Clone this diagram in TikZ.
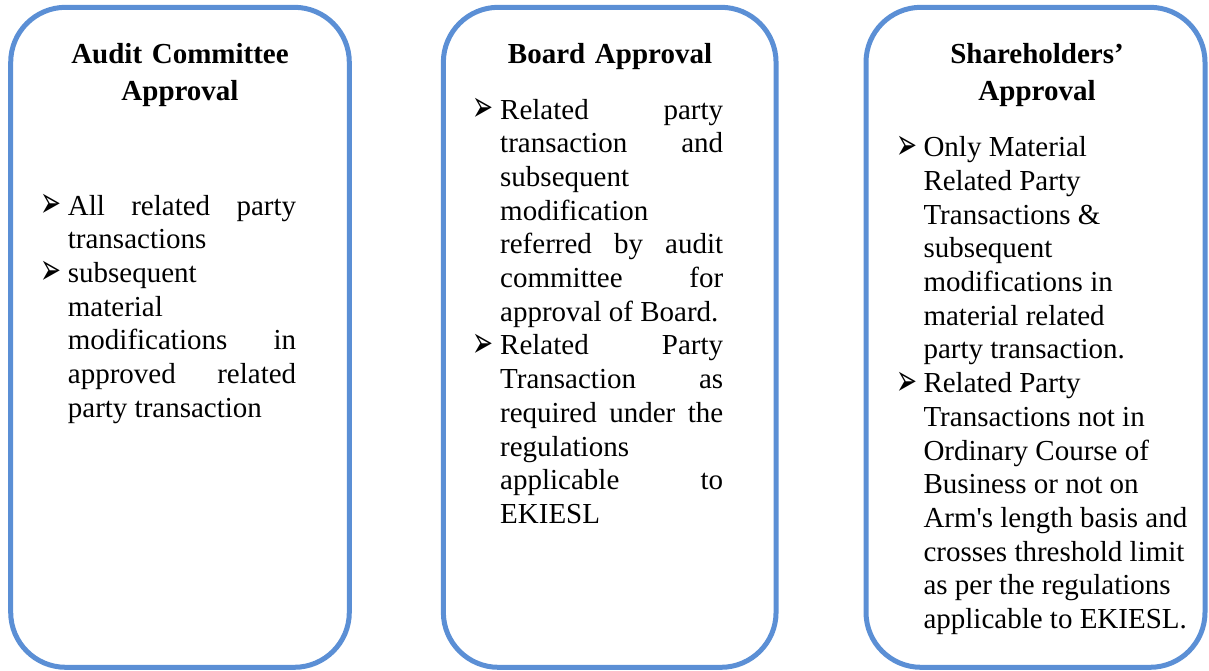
\documentclass[tikz,border=0pt]{standalone}
\usepackage{fontspec}
\setmainfont{Liberation Serif}
\newfontfamily\arrowfont{DejaVu Sans}
\usepackage{xcolor}
\usepackage{graphicx}
\usepackage{tikz}
\usetikzlibrary{positioning}
\definecolor{boxblue}{RGB}{91,143,213}
\hyphenpenalty=10000
\exhyphenpenalty=10000
\tolerance=10000
\hbadness=10000
\newcommand{\rpitem}{\leavevmode\llap{\makebox[27.5pt][l]{\raisebox{-2.5pt}{\scalebox{0.66}[1.15]{\arrowfont\fontsize{38}{38}\selectfont ➢}}}}}

\begin{document}
\begin{tikzpicture}[x=1pt,y=-1pt,
    rpbox/.style={draw=boxblue,line width=5pt,rounded corners=55pt,inner sep=0pt},
    rphead/.style={anchor=base,inner sep=0pt,text width=320pt,align=center,
      font=\bfseries\fontsize{29}{37}\selectfont},
    rpbody/.style={anchor=base west,inner sep=0pt,
      font=\fontsize{29}{33.7}\selectfont}]
  \useasboundingbox (0,0) rectangle (1209,670);

  % the three boxes
  \node[rpbox,minimum width=338.6pt,minimum height=660pt] (audit) at (180,337.3) {};
  \node[rpbox,minimum width=332.7pt,minimum height=660pt] (board) at (609.7,337.3) {};
  \node[rpbox,minimum width=339pt,minimum height=660pt] (share) at (1035.5,337.3) {};

  % headings
  \node[rphead] (auditHead) at (180,63) {Audit Committee\\Approval};
  \node[rphead] (boardHead) at (610,63) {Board Approval};
  \node[rphead] (shareHead) at (1037,63) {Shareholders’\\Approval};

  % lists
  \node[rpbody,text width=228.3pt,align=justify] (auditList) at (67.7,215)
    {\rpitem All related party\linebreak transactions\par
     \rpitem subsequent\linebreak material\linebreak modifications in\linebreak
       approved related\linebreak party transaction};
  \node[rpbody,text width=223pt,align=justify] (boardList) at (500,119)
    {\rpitem Related party\linebreak transaction and\linebreak subsequent\linebreak
       modification\linebreak referred by audit\linebreak committee for\linebreak
       approval of Board.\par
     \rpitem Related Party\linebreak Transaction as\linebreak required under the\linebreak
       regulations\linebreak applicable to\linebreak EKIESL};
  \node[rpbody,text width=275pt,align=flush left] (shareList) at (923.3,156.7)
    {\rpitem Only Material\\ Related Party\\ Transactions \&\\ subsequent\\
       modifications in\\ material related\\ party transaction.\par
     \rpitem Related Party\\ Transactions not in\\ Ordinary Course of\\
       Business or not on\\ Arm\textquotesingle s length basis and\\ crosses threshold limit\\
       as per the regulations\\ applicable to EKIESL.};
\end{tikzpicture}
\end{document}
